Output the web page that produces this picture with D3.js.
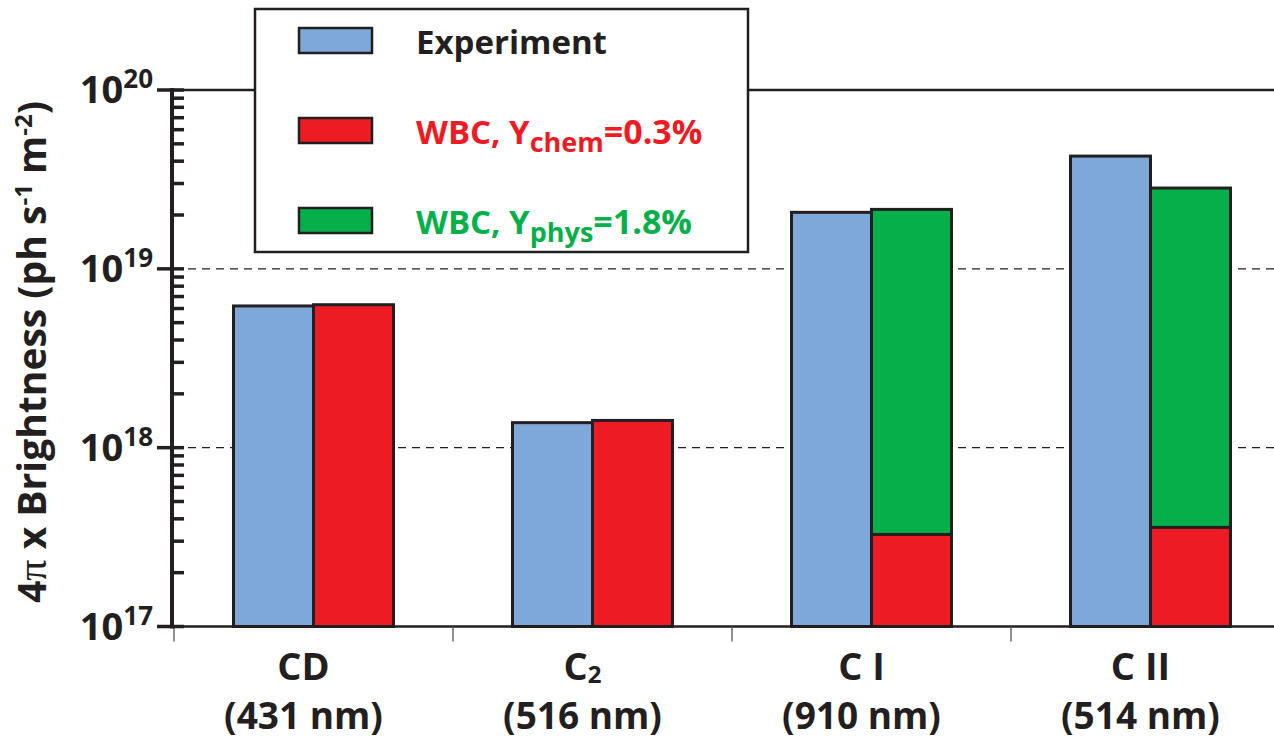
<!DOCTYPE html>
<html>
<head>
<meta charset="utf-8">
<script src="https://cdn.jsdelivr.net/npm/d3@7"></script>
<style>
body{margin:0;background:#fff;}
text{font-family:"Open Sans",sans-serif;font-weight:700;}
</style>
</head>
<body>
<div id="graph"></div>
<script>
var width=1274;
var height=739;

// data
var categories=["CD","C2","C I","C II"];
var wavelengths=["(431 nm)","(516 nm)","(910 nm)","(514 nm)"];
var experiment=[6.2e18,1.38e18,2.07e19,4.27e19];
var wbcChem=[6.3e18,1.42e18,3.27e17,3.58e17];
var wbcPhys=[null,null,2.15e19,2.83e19];
var majorTicks=[1e17,1e18,1e19,1e20];
var tickExponents=["17","18","19","20"];

var blue="#7ea8d8",red="#ed1c24",green="#05b04a",ink="#231f20";

var svg=d3.select('#graph').append('svg').attr('width',width).attr('height',height);

var y=d3.scaleLog().domain([1e17,1e20]).range([626.5,90]);
var x=d3.scaleBand().domain(categories).range([174,1290]).paddingInner(0.4265).paddingOuter(0.2133);
var xs=d3.scaleBand().domain(["exp","wbc"]).range([0,x.bandwidth()]);

// reference lines
svg.append('line').attr('x1',172).attr('x2',width).attr('y1',y(1e20)).attr('y2',y(1e20))
	.attr('stroke',ink).attr('stroke-width',2.5);
svg.selectAll('line.dash').data([1e18,1e19]).enter().append('line').attr('class','dash')
	.attr('x1',188).attr('x2',width).attr('y1',function(d){return y(d);}).attr('y2',function(d){return y(d);})
	.attr('stroke',ink).attr('stroke-width',1.3).attr('stroke-dasharray','8,6');

// bars
var g=svg.selectAll('g.grp').data(categories).enter().append('g').attr('class','grp')
	.attr('transform',function(d){return 'translate('+x(d)+',0)';});
g.append('rect').attr('x',xs('exp')).attr('width',xs.bandwidth())
	.attr('y',function(d,i){return y(experiment[i]);})
	.attr('height',function(d,i){return y(1e17)-y(experiment[i]);})
	.attr('fill',blue).attr('stroke',ink).attr('stroke-width',3);
g.filter(function(d,i){return wbcPhys[i]!=null;}).append('rect').attr('x',xs('wbc')).attr('width',xs.bandwidth())
	.attr('y',function(d){var i=categories.indexOf(d);return y(wbcPhys[i]);})
	.attr('height',function(d){var i=categories.indexOf(d);return y(wbcChem[i])-y(wbcPhys[i]);})
	.attr('fill',green).attr('stroke',ink).attr('stroke-width',3);
g.append('rect').attr('x',xs('wbc')).attr('width',xs.bandwidth())
	.attr('y',function(d,i){return y(wbcChem[i]);})
	.attr('height',function(d,i){return y(1e17)-y(wbcChem[i]);})
	.attr('fill',red).attr('stroke',ink).attr('stroke-width',3);

// x axis
svg.append('line').attr('x1',172).attr('x2',width).attr('y1',y(1e17)).attr('y2',y(1e17))
	.attr('stroke',ink).attr('stroke-width',2.5);
svg.selectAll('line.xt').data(categories).enter().append('line').attr('class','xt')
	.attr('x1',function(d){return x(d)-x.step()*x.paddingInner()/2;})
	.attr('x2',function(d){return x(d)-x.step()*x.paddingInner()/2;})
	.attr('y1',y(1e17)).attr('y2',y(1e17)+15).attr('stroke','#555').attr('stroke-width',1.3);
var xl=svg.selectAll('g.xl').data(categories).enter().append('g').attr('class','xl')
	.attr('transform',function(d){return 'translate('+(x(d)+x.bandwidth()/2-10)+',0)';});
xl.append('text').attr('y',680).attr('text-anchor','middle').attr('font-size',38).attr('fill',ink)
	.each(function(d){
		var t=d3.select(this);
		if(d==="C2"){
			t.append('tspan').text('C');
			t.append('tspan').attr('font-size',24).attr('dy',3).text('2');
		}else t.text(d);
	});
xl.append('text').attr('y',729).attr('text-anchor','middle').attr('font-size',37).attr('fill',ink)
	.text(function(d,i){return wavelengths[i];});

// y axis
var minor=y.ticks().filter(function(d){return majorTicks.indexOf(d)<0;});
svg.append('line').attr('x1',172).attr('x2',172).attr('y1',y(1e20)-2).attr('y2',y(1e17)+2)
	.attr('stroke',ink).attr('stroke-width',4);
svg.selectAll('line.mt').data(minor).enter().append('line').attr('class','mt')
	.attr('x1',172).attr('x2',184).attr('y1',function(d){return y(d);}).attr('y2',function(d){return y(d);})
	.attr('stroke',ink).attr('stroke-width',3.5);
svg.selectAll('line.Mt').data(majorTicks).enter().append('line').attr('class','Mt')
	.attr('x1',157).attr('x2',184).attr('y1',function(d){return y(d);}).attr('y2',function(d){return y(d);})
	.attr('stroke',ink).attr('stroke-width',3.5);
var yl=svg.selectAll('text.yl').data(majorTicks).enter().append('text').attr('class','yl')
	.attr('x',153).attr('y',function(d){return y(d)+13;}).attr('text-anchor','end')
	.attr('font-size',38).attr('fill',ink);
yl.append('tspan').text('10');
yl.append('tspan').attr('font-size',26).attr('dy',-15).text(function(d,i){return tickExponents[i];});

// y title
var yt=svg.append('text').attr('transform','translate(46,352) rotate(-90)').attr('text-anchor','middle')
	.attr('font-size',39).attr('fill',ink);
yt.append('tspan').text('4');
yt.append('tspan').attr('font-family','Liberation Serif').attr('font-weight',400).attr('font-size',42).text('\u03c0');
yt.append('tspan').text(' x Brightness (ph s');
yt.append('tspan').attr('font-size',24).attr('dy',-14).text('-1');
yt.append('tspan').attr('dy',14).text(' m');
yt.append('tspan').attr('font-size',24).attr('dy',-14).text('-2');
yt.append('tspan').attr('dy',14).text(')');

// legend
var legendItems=[
	{fill:blue,color:ink,main:'Experiment',sub:'',tail:''},
	{fill:red,color:red,main:'WBC, Y',sub:'chem',tail:'=0.3%'},
	{fill:green,color:green,main:'WBC, Y',sub:'phys',tail:'=1.8%'}
];
svg.append('rect').attr('x',255).attr('y',9).attr('width',493).attr('height',243)
	.attr('fill','#fff').attr('stroke',ink).attr('stroke-width',2.5);
var lg=svg.selectAll('g.lg').data(legendItems).enter().append('g').attr('class','lg')
	.attr('transform',function(d,i){return 'translate(0,'+(i*90)+')';});
lg.append('rect').attr('x',299).attr('y',28).attr('width',73).attr('height',25)
	.attr('fill',function(d){return d.fill;}).attr('stroke',ink).attr('stroke-width',2.5);
var lt=lg.append('text').attr('x',416).attr('y',54).attr('font-size',33)
	.attr('fill',function(d){return d.color;});
lt.append('tspan').text(function(d){return d.main;});
lt.filter(function(d){return d.sub;}).append('tspan').attr('font-size',27).attr('dy',8).text(function(d){return d.sub;});
lt.filter(function(d){return d.sub;}).append('tspan').attr('dy',-8).attr('font-size',34).text(function(d){return d.tail;});
</script>
</body>
</html>
